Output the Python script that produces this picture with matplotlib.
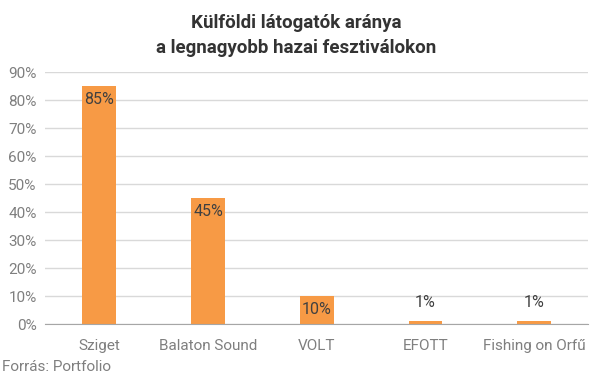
import matplotlib.pyplot as plt
import matplotlib.ticker as ticker

plt.rcParams['font.family'] = ['Roboto', 'DejaVu Sans']

festivals = ["Sziget", "Balaton Sound", "VOLT", "EFOTT", "Fishing on Orfű"]
shares = [85, 45, 10, 1, 1]
value_labels = ["85%", "45%", "10%", "1%", "1%"]

fig = plt.figure(figsize=(5.92, 3.76), dpi=100)
ax = fig.add_axes([0.076, 0.138, 0.918, 0.670])

x = range(len(festivals))
ax.bar(x, shares, width=0.31, color="#F79A45", zorder=3)

for i, (v, lab) in enumerate(zip(shares, value_labels)):
    if v >= 5:
        ax.annotate(lab, (i, v), xytext=(0, -4), textcoords="offset points",
                    ha="center", va="top", fontsize=11.5, color="#404040", zorder=4)
    else:
        ax.annotate(lab, (i, v), xytext=(0, 8), textcoords="offset points",
                    ha="center", va="bottom", fontsize=11.5, color="#404040", zorder=4)

ax.set_ylim(0, 90)
ax.set_xlim(-0.5, len(festivals) - 0.5)
ax.yaxis.set_major_locator(ticker.MultipleLocator(10))
ax.yaxis.set_major_formatter(ticker.FuncFormatter(lambda v, p: f"{v:.0f}%"))
ax.set_xticks(list(x))
ax.set_xticklabels(festivals)
ax.tick_params(axis="both", length=0, labelsize=11, colors="#7f7f7f")
ax.tick_params(axis="x", pad=11)
ax.tick_params(axis="y", pad=6)
ax.grid(axis="y", color="#d9d9d9", linewidth=1, zorder=0)
for s in ["top", "right", "left"]:
    ax.spines[s].set_visible(False)
ax.spines["bottom"].set_color("#a6a6a6")
ax.spines["bottom"].set_zorder(5)

fig.text(0.5, 0.905, "Külföldi látogatók aránya\na legnagyobb hazai fesztiválokon",
         ha="center", va="center", fontsize=13.5, fontweight="bold",
         color="#333333", linespacing=1.5)
fig.text(0.003, 0.025, "Forrás: Portfolio", ha="left", va="center",
         fontsize=11, color="#7f7f7f")

fig.savefig("out.png", dpi=100)
